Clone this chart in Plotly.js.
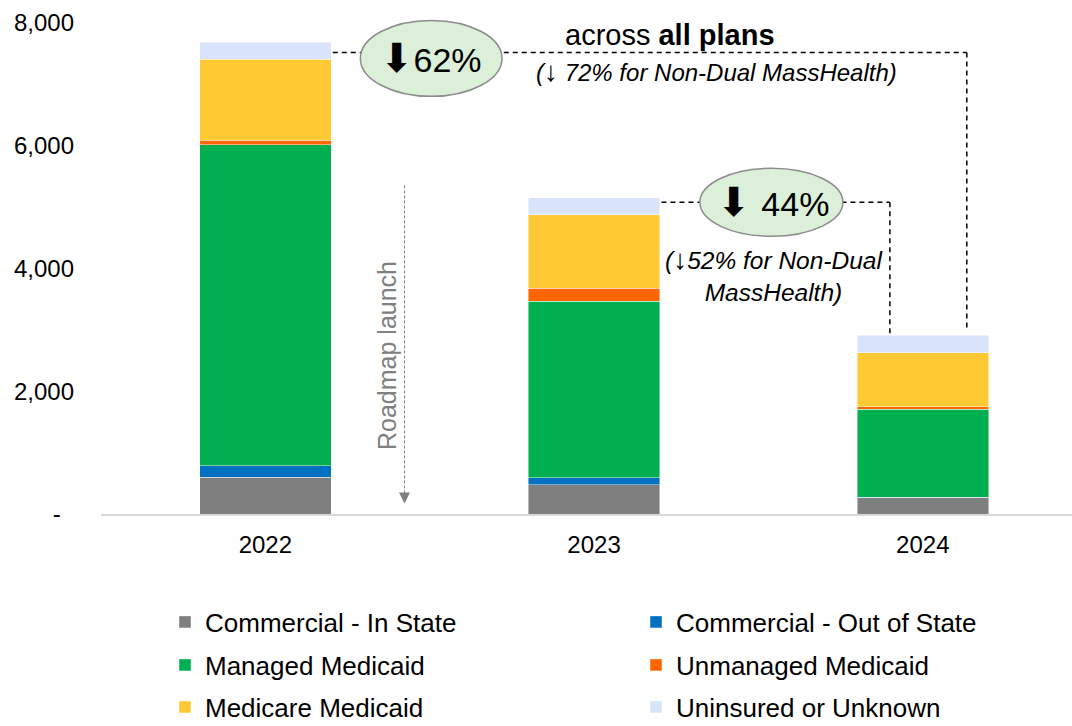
<!DOCTYPE html>
<html>
<head>
<meta charset="utf-8">
<script src="https://cdn.plot.ly/plotly-3.0.1.min.js"></script>
<style>html,body{margin:0;padding:0;background:#fff;}#chart{width:1072px;height:726px;}</style>
</head>
<body>
<div id="chart"></div>
<script>
// ---- data ----
var years = ['2022', '2023', '2024'];
var commercialInState = [595, 480, 264];
var commercialOutOfState = [190, 109, 5];
var managedMedicaid = [5225, 2870, 1432];
var unmanagedMedicaid = [70, 216, 42];
var medicareMedicaid = [1318, 1195, 879];
var uninsuredUnknown = [277, 277, 288];
var yTickVals = [0, 2000, 4000, 6000, 8000];
var yTickText = ['-\u00a0\u00a0', '2,000', '4,000', '6,000', '8,000'];
var seriesNames = ['Commercial - In State', 'Commercial - Out of State', 'Managed Medicaid',
                   'Unmanaged Medicaid', 'Medicare Medicaid', 'Uninsured or Unknown'];

// ---- styling ----
var FONT = 'Arial, "Liberation Sans", sans-serif';
var colors = ['#7F7F7F', '#0070C0', '#00B050', '#FF6600', '#FFC933', '#D9E3FC'];
var seriesValues = [commercialInState, commercialOutOfState, managedMedicaid,
                    unmanagedMedicaid, medicareMedicaid, uninsuredUnknown];
var legendIds = ['legend', 'legend2', 'legend3', 'legend4', 'legend5', 'legend6'];

var traces = seriesValues.map(function (vals, i) {
  return {
    type: 'bar',
    name: seriesNames[i],
    x: years,
    y: vals,
    width: 0.4,
    marker: {color: colors[i], line: {color: 'rgba(255,255,255,0.6)', width: 0.75}},
    legend: legendIds[i],
    hoverinfo: 'skip'
  };
});

var totals = years.map(function (_, j) {
  return seriesValues.reduce(function (s, arr) { return s + arr[j]; }, 0);
});

// legend placement (container coords)
var colX = [165 / 1072, 636 / 1072];
var rowY = [1 - 622 / 726, 1 - 665 / 726, 1 - 707 / 726];
function legendBox(i) {
  return {
    xref: 'container', yref: 'container',
    x: colX[i % 2], y: rowY[Math.floor(i / 2)], xanchor: 'left', yanchor: 'middle',
    orientation: 'v', bgcolor: 'rgba(0,0,0,0)', borderwidth: 0,
    font: {family: FONT, size: 26, color: '#000'}
  };
}

var dashBlack = {color: '#000', width: 1.5, dash: '5px,4px'};
var y1 = totals[0] - 165, y2 = totals[1] - 75;

var layout = {
  width: 1072, height: 726,
  margin: {l: 100.5, r: 0, t: 3.5, b: 212, autoexpand: false},
  paper_bgcolor: '#fff', plot_bgcolor: '#fff',
  barmode: 'stack',
  font: {family: FONT, color: '#000'},
  xaxis: {
    type: 'category', range: [-0.5, 2.454], showgrid: false, zeroline: false,
    showline: true, linecolor: '#D9D9D9', linewidth: 2, ticks: '',
    tickfont: {family: FONT, size: 24, color: '#000'}, ticklabelstandoff: 8, fixedrange: true
  },
  yaxis: {
    range: [0, 8300], showgrid: false, zeroline: false, showline: false, ticks: '',
    tickvals: yTickVals, ticktext: yTickText,
    tickfont: {family: FONT, size: 24, color: '#000'}, ticklabelstandoff: 26, fixedrange: true
  },
  showlegend: true,
  legend: legendBox(0), legend2: legendBox(1), legend3: legendBox(2),
  legend4: legendBox(3), legend5: legendBox(4), legend6: legendBox(5),
  shapes: [
    // connector 2022 -> 2024
    {type: 'line', xref: 'x', yref: 'y', x0: 0.205, x1: 2.134, y0: y1, y1: y1, line: dashBlack},
    {type: 'line', xref: 'x', yref: 'y', x0: 2.134, x1: 2.134, y0: y1, y1: totals[2] + 65, line: dashBlack},
    // connector 2023 -> 2024
    {type: 'line', xref: 'x', yref: 'y', x0: 1.205, x1: 1.9, y0: y2, y1: y2, line: dashBlack},
    {type: 'line', xref: 'x', yref: 'y', x0: 1.9, x1: 1.9, y0: y2, y1: totals[2] + 10, line: dashBlack},
    // ellipses
    {type: 'circle', xref: 'x', yref: 'y', x0: 0.289, x1: 0.720, y0: 6797, y1: 8033,
     fillcolor: '#DCEFD9', line: {color: '#8C8C8C', width: 1.5}},
    {type: 'circle', xref: 'x', yref: 'y', x0: 1.322, x1: 1.757, y0: 4520, y1: 5626,
     fillcolor: '#DCEFD9', line: {color: '#8C8C8C', width: 1.5}},
    // roadmap launch dashed line
    {type: 'line', xref: 'x', yref: 'y', x0: 0.4234, x1: 0.4234, y0: 5347, y1: 300,
     line: {color: '#808080', width: 1, dash: '3px,2px'}}
  ],
  annotations: [
    {xref: 'x', yref: 'y', x: 0.4234, y: 171, axref: 'x', ayref: 'y', ax: 0.4234, ay: 320,
     showarrow: true, arrowhead: 2, arrowsize: 2.2, arrowwidth: 1, arrowcolor: '#808080', text: ''},
    {xref: 'x', yref: 'y', x: 0.37, y: 2587, text: 'Roadmap launch', textangle: -90, showarrow: false,
     font: {family: FONT, size: 25, color: '#808080'}},
    {xref: 'x', yref: 'y', x: 0.505, y: 7415, text: '<span style="font-size:40px">\u2B07</span><span style="font-family:Arial">62%</span>', showarrow: false,
     font: {family: 'DejaVu Sans, ' + FONT, size: 34, color: '#000'}},
    {xref: 'x', yref: 'y', x: 1.231, y: 7789, text: 'across <b>all plans</b>', showarrow: false,
     font: {family: FONT, size: 29, color: '#000'}},
    {xref: 'x', yref: 'y', x: 1.371, y: 7203, text: '<i>(<span style="font-size:28px">\u2193</span> 72% for Non-Dual MassHealth)</i>', showarrow: false,
     font: {family: FONT, size: 24, color: '#000'}},
    {xref: 'x', yref: 'y', x: 1.544, y: 5073, text: '<span style="font-size:40px">\u2B07</span> <span style="font-family:Arial">44%</span>', showarrow: false,
     font: {family: 'DejaVu Sans, ' + FONT, size: 34, color: '#000'}},
    {xref: 'x', yref: 'y', x: 1.547, y: 3894, text: '<i>(<span style="font-size:28px">\u2193</span>52% for Non-Dual<br>MassHealth)</i>', showarrow: false,
     font: {family: FONT, size: 24.5, color: '#000'}}
  ]
};

Plotly.newPlot('chart', traces, layout, {staticPlot: true, displayModeBar: false});
</script>
</body>
</html>
